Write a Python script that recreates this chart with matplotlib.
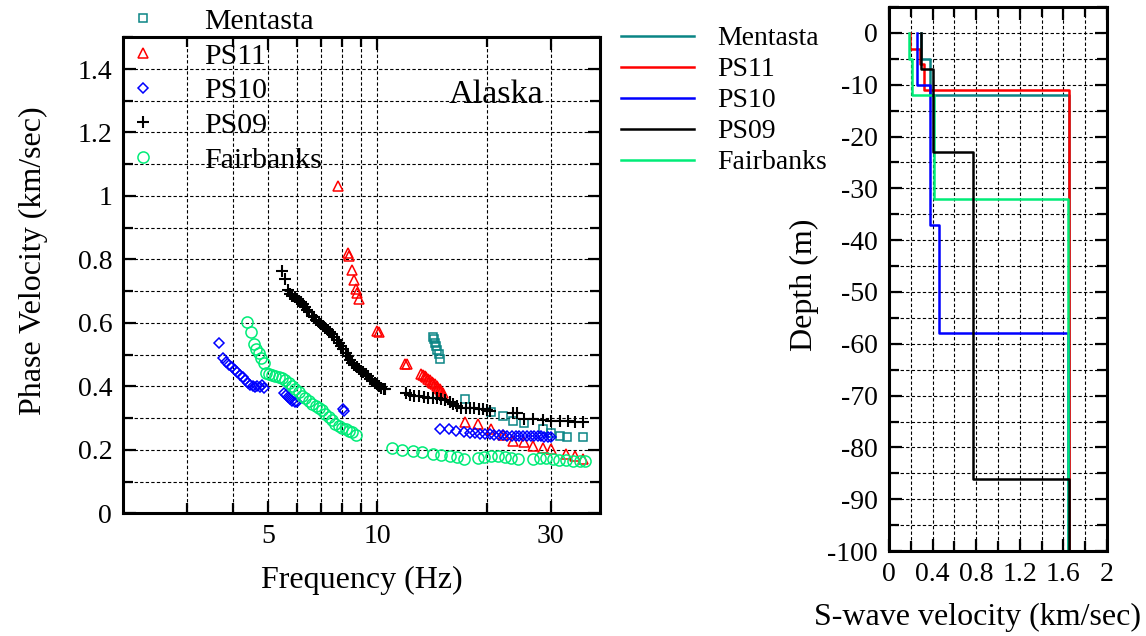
import numpy as np
import matplotlib
matplotlib.use("Agg")
import matplotlib.pyplot as plt
from matplotlib.ticker import FixedLocator, NullFormatter, MultipleLocator, FormatStrFormatter

plt.rcParams['font.family'] = ['Liberation Serif', 'DejaVu Serif']
plt.rcParams['axes.unicode_minus'] = False

# ---- dispersion curves (frequency Hz, phase velocity km/s) ----
mentasta_f = [14.2, 14.3, 14.4, 14.5, 14.6, 14.75, 14.85, 17.4, 20.6, 22.1, 23.6, 25.3,
              28.6, 30.1, 31.8, 33.3, 36.7]
mentasta_v = [0.556, 0.549, 0.538, 0.527, 0.515, 0.501, 0.487, 0.361, 0.318, 0.306, 0.290,
              0.283, 0.266, 0.254, 0.242, 0.240, 0.241]

ps11_f = [7.8, 8.28, 8.38, 8.49, 8.62, 8.71, 8.81, 8.9, 10.0, 10.08, 11.95, 12.1,
          13.2, 13.35, 13.5, 13.65, 13.8, 13.95, 14.1, 14.25, 14.4, 14.55, 14.7, 14.85,
          15.0, 15.2, 17.4, 18.9, 20.5, 22.1, 23.6, 25.3, 26.8, 28.6, 30.1, 33.1, 34.9, 36.7]
ps11_v = [1.031, 0.821, 0.812, 0.768, 0.735, 0.707, 0.694, 0.675, 0.573, 0.570, 0.469, 0.469,
          0.440, 0.436, 0.432, 0.428, 0.424, 0.420, 0.415, 0.411, 0.406, 0.401, 0.396, 0.391,
          0.386, 0.380, 0.287, 0.280, 0.266, 0.246, 0.228, 0.224, 0.211, 0.206, 0.203, 0.186,
          0.181, 0.172]

ps10_f = [3.67, 3.77, 3.84, 3.91, 3.98, 4.05, 4.12, 4.19, 4.26, 4.33, 4.40, 4.47, 4.54,
          4.61, 4.68, 4.75, 4.82, 4.89,
          5.52, 5.60, 5.68, 5.76, 5.84, 5.92, 6.0,
          8.04, 8.12,
          14.9, 15.7, 16.5, 17.35, 18.0, 18.6, 19.2, 19.8, 20.4, 21.0, 21.6, 22.2, 22.8,
          23.4, 24.0, 24.6, 25.2, 25.8, 26.4, 27.0, 27.6, 28.2, 28.8, 29.4, 30.0]
ps10_v = [0.535, 0.490, 0.478, 0.468, 0.460, 0.452, 0.444, 0.436, 0.428, 0.420, 0.412,
          0.405, 0.400, 0.398, 0.401, 0.399, 0.403, 0.396,
          0.380, 0.372, 0.366, 0.360, 0.355, 0.352, 0.350,
          0.327, 0.322,
          0.266, 0.264, 0.258, 0.256, 0.254, 0.252, 0.251, 0.250, 0.249, 0.248, 0.247, 0.246,
          0.245, 0.245, 0.244, 0.244, 0.245, 0.244, 0.243, 0.243, 0.242, 0.242, 0.241, 0.241,
          0.240]

ps09_f = [5.47, 5.58, 5.68, 5.76, 5.84, 5.92, 6.00, 6.08, 6.16, 6.24, 6.34, 6.42, 6.50,
          6.61, 6.70, 6.80, 6.90, 7.00, 7.10, 7.20, 7.30, 7.40, 7.51, 7.62, 7.73, 7.84,
          7.95, 8.06, 8.18, 8.30, 8.42, 8.53, 8.65, 8.77, 8.90, 9.03, 9.16, 9.29, 9.42,
          9.55, 9.69, 9.83, 9.96, 10.1, 10.25, 10.4, 10.5,
          12.0, 12.3, 12.6, 13.0, 13.4, 13.8, 14.2, 14.6, 15.0, 15.4, 15.8, 16.2, 16.6,
          17.0, 17.5, 18.0, 18.5, 19.0, 19.5, 20.0, 20.4,
          23.6, 24.2, 25.4, 26.8, 28.6, 30.1, 31.8, 33.5, 34.9, 36.7]
ps09_v = [0.762, 0.737, 0.705, 0.691, 0.685, 0.680, 0.675, 0.670, 0.665, 0.659, 0.649,
          0.642, 0.634, 0.622, 0.617, 0.610, 0.603, 0.597, 0.591, 0.585, 0.578, 0.571,
          0.564, 0.556, 0.547, 0.538, 0.528, 0.517, 0.506, 0.495, 0.484, 0.475, 0.468,
          0.461, 0.454, 0.449, 0.444, 0.438, 0.432, 0.424, 0.417, 0.411, 0.406, 0.401,
          0.396, 0.392, 0.390,
          0.378, 0.372, 0.370, 0.368, 0.366, 0.364, 0.363, 0.362, 0.360, 0.356, 0.350,
          0.343, 0.337, 0.333, 0.332, 0.332, 0.331, 0.330, 0.328, 0.325, 0.321,
          0.316, 0.316, 0.297, 0.296, 0.295, 0.290, 0.290, 0.290, 0.288, 0.287]

fair_f = [4.37, 4.49, 4.57, 4.63, 4.71, 4.79, 4.87, 4.94, 5.02, 5.13, 5.24, 5.35, 5.46,
          5.58, 5.70, 5.82, 5.95, 6.08, 6.21, 6.34, 6.48, 6.61, 6.76, 6.90, 7.05, 7.20,
          7.35, 7.51, 7.67, 7.84, 8.00, 8.18, 8.35, 8.53, 8.71,
          10.96, 11.7, 12.55, 13.3, 14.2, 14.96, 15.8, 16.6, 17.35, 18.9, 19.7, 20.6, 21.5,
          22.4, 23.3, 24.4, 26.8, 28.0, 29.2, 30.4, 31.7, 33.1, 34.5, 36.1, 37.2]
fair_v = [0.603, 0.570, 0.533, 0.517, 0.504, 0.490, 0.475, 0.443, 0.438, 0.435, 0.432,
          0.429, 0.425, 0.419, 0.411, 0.400, 0.392, 0.382, 0.371, 0.364, 0.353, 0.345,
          0.338, 0.332, 0.325, 0.314, 0.304, 0.293, 0.280, 0.274, 0.269, 0.264, 0.258,
          0.255, 0.248,
          0.206, 0.200, 0.195, 0.192, 0.188, 0.185, 0.181, 0.176, 0.171, 0.174, 0.177,
          0.181, 0.181, 0.177, 0.174, 0.171, 0.171, 0.174, 0.174, 0.171, 0.169, 0.169,
          0.164, 0.164, 0.166]

# ---- S-wave velocity profiles: layer velocity (km/s) and layer bottom depth (m) ----
mentasta_vs = [0.29, 0.375, 1.65]
mentasta_bot = [5, 12, 100]
ps11_vs = [0.195, 0.285, 0.32, 1.65]
ps11_bot = [3, 6, 11, 100]
ps10_vs = [0.26, 0.375, 0.455, 1.645]
ps10_bot = [10, 37, 58, 100]
ps09_vs = [0.295, 0.405, 0.77, 1.65]
ps09_bot = [7, 23, 86, 100]
fair_vs = [0.18, 0.215, 0.41, 1.645]
fair_bot = [5, 12, 32, 100]

names = ['Mentasta', 'PS11', 'PS10', 'PS09', 'Fairbanks']
teal, green = '#0a8585', '#00ec78'


def profile_xy(vs, bot):
    tops = [0] + bot[:-1]
    x, y = [], []
    for v, t, b in zip(vs, tops, bot):
        x += [v, v]
        y += [-t, -b]
    return x, y


fig = plt.figure(figsize=(11.46, 6.36), dpi=100)
ax1 = fig.add_axes([0.1076, 0.193, 0.416, 0.7484])
ax2 = fig.add_axes([0.7757, 0.1336, 0.1902, 0.8553])

grid_kw = dict(color='black', linestyle=(0, (3, 2)), linewidth=0.8)
tick_kw = dict(direction='in', top=True, right=True, labelsize=20, width=1.6, pad=8)

# ---- left: dispersion curves ----
mk = dict(linestyle='none', fillstyle='none', markeredgewidth=1.1)
h1 = []
h1 += ax1.plot(mentasta_f, mentasta_v, marker='s', markersize=5.5, color=teal, **mk)
h1 += ax1.plot(ps11_f, ps11_v, marker='^', markersize=6.5, color='red', **mk)
h1 += ax1.plot(ps10_f, ps10_v, marker='D', markersize=5.5, color='blue', **mk)
h1 += ax1.plot(ps09_f, ps09_v, marker='+', markersize=9, color='black',
               linestyle='none', markeredgewidth=1.5)
h1 += ax1.plot(fair_f, fair_v, marker='o', markersize=8, color=green, **mk)

ax1.set_xscale('log')
ax1.set_xlim(2, 41)
ax1.set_ylim(0, 1.5)
ax1.xaxis.set_major_locator(FixedLocator([5, 10, 30]))
ax1.xaxis.set_major_formatter(FormatStrFormatter('%g'))
ax1.xaxis.set_minor_locator(FixedLocator([3, 4, 6, 7, 8, 9, 20]))
ax1.xaxis.set_minor_formatter(NullFormatter())
ax1.yaxis.set_major_locator(MultipleLocator(0.2))
ax1.yaxis.set_minor_locator(MultipleLocator(0.1))
ax1.yaxis.set_major_formatter(FormatStrFormatter('%g'))
ax1.tick_params(which='major', length=9, **tick_kw)
ax1.tick_params(which='minor', length=7, direction='in', top=True, right=True, width=1.6)
ax1.grid(True, which='both', **grid_kw)
ax1.set_xlabel('Frequency (Hz)', fontsize=23)
ax1.set_ylabel('Phase Velocity (km/sec)', fontsize=23)
ax1.xaxis.set_label_coords(0.5, -0.111)
ax1.yaxis.set_label_coords(-0.158, 0.53)
ax1.text(0.782, 0.88, 'Alaska', transform=ax1.transAxes, fontsize=24.5,
         ha='center', va='center')
for s in ax1.spines.values():
    s.set_linewidth(2.2)

fig.legend(h1, names, loc='upper left', bbox_to_anchor=(128 / 1146, 1 - 8 / 636),
           frameon=False, fontsize=21.5, handlelength=1.0, handletextpad=1.54,
           labelspacing=0.26, borderpad=0, borderaxespad=0)

# ---- right: velocity profiles ----
h2 = {}
for key, vs, bot, c in [('Mentasta', mentasta_vs, mentasta_bot, teal),
                        ('PS11', ps11_vs, ps11_bot, 'red'),
                        ('PS10', ps10_vs, ps10_bot, 'blue'),
                        ('Fairbanks', fair_vs, fair_bot, green),
                        ('PS09', ps09_vs, ps09_bot, 'black')]:
    x, y = profile_xy(vs, bot)
    h2[key], = ax2.plot(x, y, color=c, linewidth=1.8)

ax2.set_xlim(0, 2)
ax2.set_ylim(-100, 5)
ax2.xaxis.set_major_locator(MultipleLocator(0.4))
ax2.xaxis.set_minor_locator(MultipleLocator(0.2))
ax2.xaxis.set_major_formatter(FormatStrFormatter('%g'))
ax2.yaxis.set_major_locator(MultipleLocator(10))
ax2.yaxis.set_minor_locator(MultipleLocator(5))
ax2.tick_params(which='major', length=9, **tick_kw)
ax2.tick_params(which='minor', length=7, direction='in', top=True, right=True, width=1.6)
ax2.grid(True, which='both', **grid_kw)
ax2.set_xlabel('S-wave velocity (km/sec)', fontsize=23)
ax2.set_ylabel('Depth (m)', fontsize=23)
ax2.xaxis.set_label_coords(0.406, -0.096)
ax2.yaxis.set_label_coords(-0.321, 0.489)
for s in ax2.spines.values():
    s.set_linewidth(2.2)

fig.legend([h2[n] for n in names], names, loc='upper left',
           bbox_to_anchor=(621 / 1146, 1 - 26 / 636), frameon=False, fontsize=20,
           handlelength=2.64, handletextpad=0.81, labelspacing=0.2,
           borderpad=0, borderaxespad=0)

fig.savefig('out.png', dpi=100)
